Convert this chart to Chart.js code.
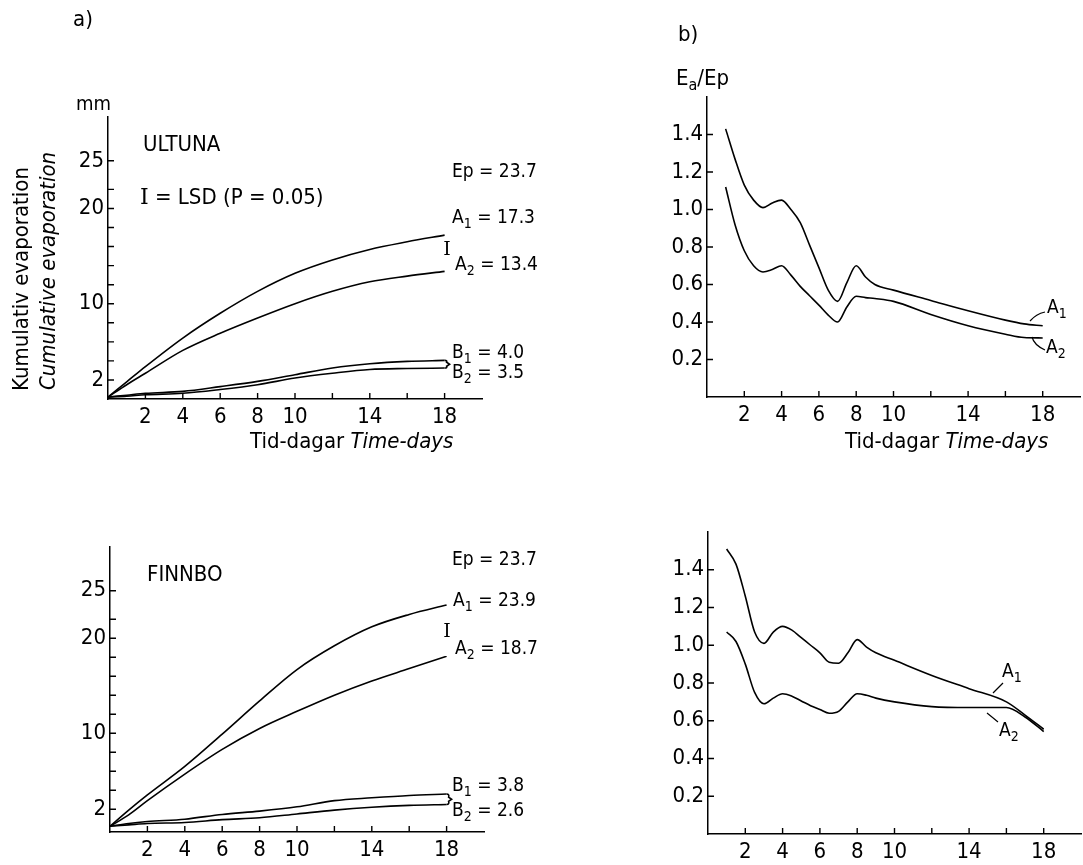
<!DOCTYPE html>
<html>
<head>
<meta charset="utf-8">
<script src="https://cdn.jsdelivr.net/npm/chart.js@4.4.1/dist/chart.umd.min.js"></script>
<style>
  html, body { margin: 0; padding: 0; background: #fff; }
  #fig { position: relative; width: 1083px; height: 865px; }
  canvas { position: absolute; }
</style>
</head>
<body>
<div id="fig">
  <canvas id="ultunaEvap" width="541" height="470" style="left:0;top:0"></canvas>
  <canvas id="ultunaRatio" width="542" height="470" style="left:541px;top:0"></canvas>
  <canvas id="finnboEvap" width="541" height="395" style="left:0;top:470px"></canvas>
  <canvas id="finnboRatio" width="542" height="395" style="left:541px;top:470px"></canvas>
</div>
<script>
const FONT = "'DejaVu Sans Condensed', 'DejaVu Sans', sans-serif";
const SERIF = "'DejaVu Serif', serif";

// a) kumulativ evaporation, mm
const evapDays = [0, 1, 2, 4, 6, 8, 10, 12, 14, 16, 18];
const ultunaA1 = [0.2, 1.8, 3.4, 6.4, 9.0, 11.3, 13.2, 14.6, 15.7, 16.5, 17.2];
const ultunaA2 = [0.2, 1.5, 2.7, 5.1, 6.9, 8.5, 10.0, 11.3, 12.3, 12.9, 13.4];
const ultunaB1 = [0.2, 0.4, 0.6, 0.8, 1.3, 1.85, 2.55, 3.25, 3.7, 3.95, 4.05];
const ultunaB2 = [0.2, 0.3, 0.45, 0.6, 1.0, 1.5, 2.2, 2.7, 3.1, 3.2, 3.25];
const finnboA1 = [0.2, 1.9, 3.5, 6.5, 9.9, 13.4, 16.7, 19.2, 21.2, 22.5, 23.5];
const finnboA2 = [0.2, 1.4, 2.9, 5.7, 8.3, 10.5, 12.3, 14.0, 15.5, 16.8, 18.1];
const finnboB1 = [0.2, 0.5, 0.7, 0.95, 1.45, 1.8, 2.25, 2.9, 3.2, 3.45, 3.6];
const finnboB2 = [0.2, 0.35, 0.5, 0.6, 0.9, 1.1, 1.5, 1.9, 2.2, 2.4, 2.5];

// b) Ea/Ep
const ratioDays = [1, 1.5, 2, 2.5, 3, 3.5, 4, 4.5, 5, 5.5, 6, 6.5, 7, 7.5, 8, 8.5, 9, 10, 12, 14, 16, 17, 18];
const ultunaRatioA1 = [1.43, 1.27, 1.13, 1.05, 1.01, 1.035, 1.05, 1.0, 0.93, 0.81, 0.69, 0.57, 0.51, 0.61, 0.70, 0.64, 0.60, 0.57, 0.515, 0.46, 0.41, 0.39, 0.38];
const ultunaRatioA2 = [1.12, 0.92, 0.78, 0.70, 0.667, 0.68, 0.70, 0.65, 0.59, 0.54, 0.49, 0.437, 0.40, 0.48, 0.537, 0.53, 0.525, 0.51, 0.44, 0.38, 0.335, 0.317, 0.315];
const finnboRatioA1 = [1.51, 1.43, 1.26, 1.07, 1.01, 1.07, 1.10, 1.08, 1.04, 1.0, 0.96, 0.91, 0.905, 0.96, 1.03, 0.99, 0.96, 0.92, 0.84, 0.77, 0.70, 0.63, 0.555];
const finnboRatioA2 = [1.07, 1.02, 0.90, 0.75, 0.69, 0.72, 0.743, 0.73, 0.705, 0.68, 0.66, 0.64, 0.65, 0.70, 0.743, 0.735, 0.72, 0.70, 0.675, 0.67, 0.67, 0.62, 0.543];

// ticks
const dayTicks = [2, 4, 6, 8, 10, 12, 14, 16, 18];
const dayTickLabels = ["2", "4", "6", "8", "10", "", "14", "", "18"];
const evapTicks = [2, 4, 6, 8, 10, 12, 14, 16, 18, 20, 22, 25];
const evapTickLabels = ["2", "", "", "", "10", "", "", "", "", "20", "", "25"];
const ratioTicks = [0.2, 0.4, 0.6, 0.8, 1.0, 1.2, 1.4];
const ratioTickLabels = ["0.2", "0.4", "0.6", "0.8", "1.0", "1.2", "1.4"];

const last = arr => arr[arr.length - 1];
const pts = (xs, ys) => xs.map((x, i) => ({ x: x, y: ys[i] }));
const line = (label, xs, ys) => ({
  label: label, data: pts(xs, ys),
  borderColor: "#000", borderWidth: 1.6, pointRadius: 0,
  cubicInterpolationMode: "monotone", fill: false
});

// text: segments of {t, italic, serif, sub}
function drawRich(ctx, segs, x, y, size, align, rot) {
  const fontOf = s => (s.italic ? "italic " : "") + (s.sub ? Math.round(size * 0.72) : size) + "px " + (s.serif ? SERIF : FONT);
  const widths = segs.map(s => { ctx.font = fontOf(s); return ctx.measureText(s.t).width; });
  const w = widths.reduce((a, b) => a + b, 0);
  ctx.save();
  ctx.translate(x, y);
  if (rot) ctx.rotate(rot);
  let cx = align === "center" ? -w / 2 : align === "right" ? -w : 0;
  ctx.textBaseline = "middle";
  ctx.textAlign = "left";
  segs.forEach((s, i) => {
    ctx.font = fontOf(s);
    ctx.fillText(s.t, cx, s.sub ? size * 0.32 : 0);
    cx += widths[i];
  });
  ctx.restore();
}
const txt = (t, o) => Object.assign({ t: t }, o || {});

const decor = {
  id: "decor",
  afterDraw(chart, args, opts) {
    const ctx = chart.ctx;
    const area = chart.chartArea;
    const xs = chart.scales.x, ys = chart.scales.y;
    ctx.save();
    ctx.strokeStyle = "#000";
    ctx.fillStyle = "#000";
    ctx.lineWidth = 1.4;
    // inward tick marks
    ctx.beginPath();
    xs.ticks.forEach(t => {
      const px = xs.getPixelForValue(t.value);
      ctx.moveTo(px, area.bottom);
      ctx.lineTo(px, area.bottom - 6);
    });
    ys.ticks.forEach(t => {
      const py = ys.getPixelForValue(t.value);
      ctx.moveTo(area.left, py);
      ctx.lineTo(area.left + 6, py);
    });
    ctx.stroke();
    // brace joining the B curves at the last day
    if (opts.brace) {
      const b = opts.brace;
      const px = xs.getPixelForValue(b.x);
      const p1 = ys.getPixelForValue(b.y1), p2 = ys.getPixelForValue(b.y2);
      const mid = (p1 + p2) / 2;
      ctx.lineWidth = 1.6;
      ctx.beginPath();
      ctx.moveTo(px, p1);
      ctx.quadraticCurveTo(px + 3, p1, px + 2, mid - 2);
      ctx.lineTo(px + 5, mid);
      ctx.lineTo(px + 2, mid + 2);
      ctx.quadraticCurveTo(px + 3, p2, px, p2);
      ctx.stroke();
    }
    // small leader curves for A1 / A2
    (opts.leaders || []).forEach(l => {
      ctx.lineWidth = 1.2;
      ctx.beginPath();
      ctx.moveTo(l[0] - opts.ox, l[1] - opts.oy);
      ctx.quadraticCurveTo(l[2] - opts.ox, l[3] - opts.oy, l[4] - opts.ox, l[5] - opts.oy);
      ctx.stroke();
    });
    (opts.texts || []).forEach(it => {
      drawRich(ctx, it.segs, it.x - opts.ox, it.y - opts.oy, it.size, it.align, it.rot);
    });
    ctx.restore();
  }
};

function panel(id, ox, oy, area, datasets, yMin, yMax, yTicks, yLabels, decorOpts) {
  const cv = document.getElementById(id);
  const W = cv.width, H = cv.height;
  const tickFont = { family: FONT, size: 22 };
  return new Chart(cv, {
    type: "line",
    data: { datasets: datasets },
    options: {
      responsive: false,
      animation: false,
      devicePixelRatio: 1,
      layout: { padding: { left: 0, top: area.top, right: W - area.right, bottom: 0 } },
      plugins: {
        legend: { display: false },
        tooltip: { enabled: false },
        decor: Object.assign({ ox: ox, oy: oy }, decorOpts)
      },
      scales: {
        x: {
          type: "linear", min: 0, max: 20,
          afterFit: s => { s.height = H - area.bottom; },
          afterBuildTicks: s => { s.ticks = dayTicks.map(v => ({ value: v })); },
          grid: { display: false, drawTicks: false },
          border: { display: true, color: "#000", width: 1.5 },
          ticks: { padding: 5, color: "#000", font: tickFont, maxRotation: 0, autoSkip: false,
                   callback: (v, i) => dayTickLabels[i] }
        },
        y: {
          type: "linear", min: yMin, max: yMax,
          afterFit: s => { s.width = area.left; },
          afterBuildTicks: s => { s.ticks = yTicks.map(v => ({ value: v })); },
          grid: { display: false, drawTicks: false },
          border: { display: true, color: "#000", width: 1.5 },
          ticks: { padding: 4, color: "#000", font: tickFont, autoSkip: false,
                   callback: (v, i) => yLabels[i] }
        }
      }
    },
    plugins: [decor]
  });
}

const timeTitle = [txt("Tid-dagar "), txt("Time-days", { italic: true })];

// a) ULTUNA
panel("ultunaEvap", 0, 0, { left: 108, top: 117, right: 482, bottom: 399 },
  [line("A1", evapDays, ultunaA1), line("A2", evapDays, ultunaA2),
   line("B1", evapDays, ultunaB1), line("B2", evapDays, ultunaB2)],
  0, 29.6, evapTicks, evapTickLabels,
  {
    brace: { x: 18, y1: last(ultunaB1), y2: last(ultunaB2) },
    texts: [
      { segs: [txt("a)")], x: 73, y: 20, size: 22, align: "left" },
      { segs: [txt("mm")], x: 76, y: 105, size: 20, align: "left" },
      { segs: [txt("Kumulativ evaporation")], x: 22, y: 279, size: 22, align: "center", rot: -Math.PI / 2 },
      { segs: [txt("Cumulative evaporation", { italic: true })], x: 49, y: 271, size: 22, align: "center", rot: -Math.PI / 2 },
      { segs: [txt("ULTUNA")], x: 143, y: 145, size: 22, align: "left" },
      { segs: [txt("I", { serif: true }), txt(" = LSD (P = 0.05)")], x: 140, y: 198, size: 22, align: "left" },
      { segs: [txt("Ep = 23.7")], x: 452, y: 172, size: 19, align: "left" },
      { segs: [txt("A"), txt("1", { sub: true }), txt(" = 17.3")], x: 452, y: 218, size: 19, align: "left" },
      { segs: [txt("I", { serif: true })], x: 447, y: 250, size: 19, align: "center" },
      { segs: [txt("A"), txt("2", { sub: true }), txt(" = 13.4")], x: 455, y: 265, size: 19, align: "left" },
      { segs: [txt("B"), txt("1", { sub: true }), txt(" = 4.0")], x: 452, y: 353, size: 19, align: "left" },
      { segs: [txt("B"), txt("2", { sub: true }), txt(" = 3.5")], x: 452, y: 373, size: 19, align: "left" },
      { segs: timeTitle, x: 250, y: 442, size: 22, align: "left" }
    ]
  });

// b) ULTUNA Ea/Ep
panel("ultunaRatio", 541, 0, { left: 166, top: 97, right: 539, bottom: 397 },
  [line("A1", ratioDays, ultunaRatioA1), line("A2", ratioDays, ultunaRatioA2)],
  0, 1.6, ratioTicks, ratioTickLabels,
  {
    leaders: [[1030, 321, 1036, 314, 1045, 312], [1032, 337, 1034, 345, 1045, 350]],
    texts: [
      { segs: [txt("b)")], x: 678, y: 35, size: 22, align: "left" },
      { segs: [txt("E"), txt("a", { sub: true }), txt("/Ep")], x: 676, y: 79, size: 22, align: "left" },
      { segs: [txt("A"), txt("1", { sub: true })], x: 1047, y: 308, size: 19, align: "left" },
      { segs: [txt("A"), txt("2", { sub: true })], x: 1046, y: 348, size: 19, align: "left" },
      { segs: timeTitle, x: 845, y: 442, size: 22, align: "left" }
    ]
  });

// a) FINNBO
panel("finnboEvap", 0, 470, { left: 110, top: 77, right: 484, bottom: 362 },
  [line("A1", evapDays, finnboA1), line("A2", evapDays, finnboA2),
   line("B1", evapDays, finnboB1), line("B2", evapDays, finnboB2)],
  -0.4, 29.6, evapTicks, evapTickLabels,
  {
    brace: { x: 18, y1: last(finnboB1), y2: last(finnboB2) },
    texts: [
      { segs: [txt("FINNBO")], x: 147, y: 575, size: 22, align: "left" },
      { segs: [txt("Ep = 23.7")], x: 452, y: 560, size: 19, align: "left" },
      { segs: [txt("A"), txt("1", { sub: true }), txt(" = 23.9")], x: 453, y: 601, size: 19, align: "left" },
      { segs: [txt("I", { serif: true })], x: 447, y: 632, size: 19, align: "center" },
      { segs: [txt("A"), txt("2", { sub: true }), txt(" = 18.7")], x: 455, y: 649, size: 19, align: "left" },
      { segs: [txt("B"), txt("1", { sub: true }), txt(" = 3.8")], x: 452, y: 786, size: 19, align: "left" },
      { segs: [txt("B"), txt("2", { sub: true }), txt(" = 2.6")], x: 452, y: 811, size: 19, align: "left" }
    ]
  });

// b) FINNBO Ea/Ep
panel("finnboRatio", 541, 470, { left: 167, top: 62, right: 540, bottom: 364 },
  [line("A1", ratioDays, finnboRatioA1), line("A2", ratioDays, finnboRatioA2)],
  0, 1.6, ratioTicks, ratioTickLabels,
  {
    leaders: [[993, 693, 998, 688, 1003, 683], [987, 713, 992, 717, 998, 722]],
    texts: [
      { segs: [txt("A"), txt("1", { sub: true })], x: 1002, y: 672, size: 19, align: "left" },
      { segs: [txt("A"), txt("2", { sub: true })], x: 999, y: 731, size: 19, align: "left" }
    ]
  });
</script>
</body>
</html>
